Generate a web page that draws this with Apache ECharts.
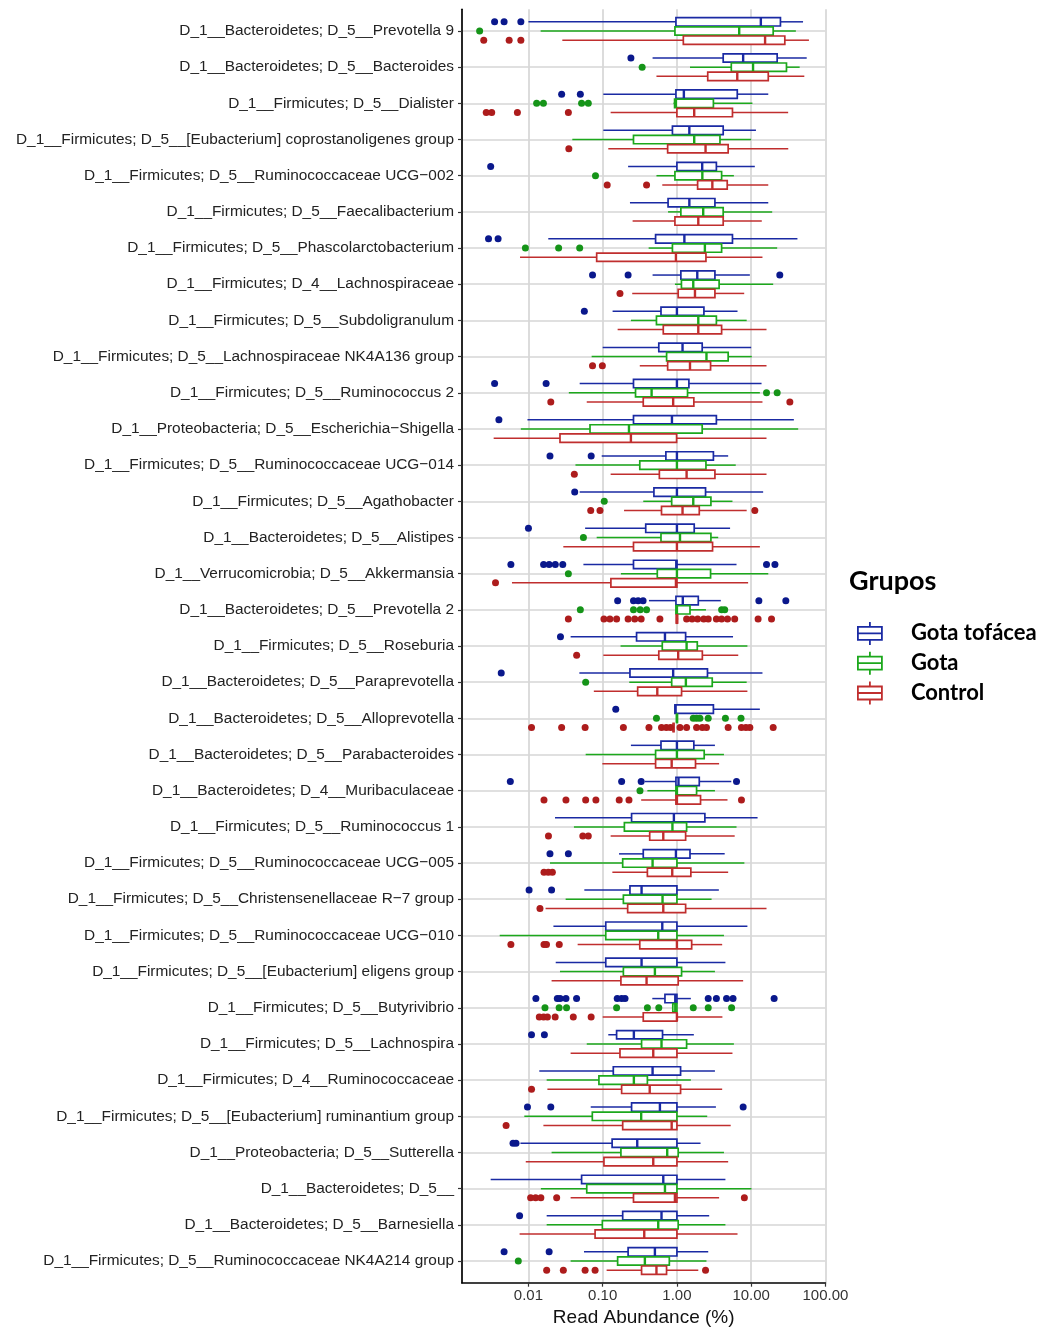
<!DOCTYPE html>
<html>
<head>
<meta charset="utf-8">
<script src="https://cdn.jsdelivr.net/npm/echarts@6/dist/echarts.min.js"></script>
<style>
  html, body { margin: 0; padding: 0; background: #fff; }
  #chart { width: 1041px; height: 1327px; }
</style>
</head>
<body>
<div id="chart"></div>
<script>
// Taxa shown on the vertical axis, top to bottom
const taxa = [
  'D_1__Bacteroidetes; D_5__Prevotella 9',
  'D_1__Bacteroidetes; D_5__Bacteroides',
  'D_1__Firmicutes; D_5__Dialister',
  'D_1__Firmicutes; D_5__[Eubacterium] coprostanoligenes group',
  'D_1__Firmicutes; D_5__Ruminococcaceae UCG\u2212002',
  'D_1__Firmicutes; D_5__Faecalibacterium',
  'D_1__Firmicutes; D_5__Phascolarctobacterium',
  'D_1__Firmicutes; D_4__Lachnospiraceae',
  'D_1__Firmicutes; D_5__Subdoligranulum',
  'D_1__Firmicutes; D_5__Lachnospiraceae NK4A136 group',
  'D_1__Firmicutes; D_5__Ruminococcus 2',
  'D_1__Proteobacteria; D_5__Escherichia\u2212Shigella',
  'D_1__Firmicutes; D_5__Ruminococcaceae UCG\u2212014',
  'D_1__Firmicutes; D_5__Agathobacter',
  'D_1__Bacteroidetes; D_5__Alistipes',
  'D_1__Verrucomicrobia; D_5__Akkermansia',
  'D_1__Bacteroidetes; D_5__Prevotella 2',
  'D_1__Firmicutes; D_5__Roseburia',
  'D_1__Bacteroidetes; D_5__Paraprevotella',
  'D_1__Bacteroidetes; D_5__Alloprevotella',
  'D_1__Bacteroidetes; D_5__Parabacteroides',
  'D_1__Bacteroidetes; D_4__Muribaculaceae',
  'D_1__Firmicutes; D_5__Ruminococcus 1',
  'D_1__Firmicutes; D_5__Ruminococcaceae UCG\u2212005',
  'D_1__Firmicutes; D_5__Christensenellaceae R\u22127 group',
  'D_1__Firmicutes; D_5__Ruminococcaceae UCG\u2212010',
  'D_1__Firmicutes; D_5__[Eubacterium] eligens group',
  'D_1__Firmicutes; D_5__Butyrivibrio',
  'D_1__Firmicutes; D_5__Lachnospira',
  'D_1__Firmicutes; D_4__Ruminococcaceae',
  'D_1__Firmicutes; D_5__[Eubacterium] ruminantium group',
  'D_1__Proteobacteria; D_5__Sutterella',
  'D_1__Bacteroidetes; D_5__',
  'D_1__Bacteroidetes; D_5__Barnesiella',
  'D_1__Firmicutes; D_5__Ruminococcaceae NK4A214 group'
];

const groupNames = ['Gota tof\u00e1cea', 'Gota', 'Control'];

// Read abundance (%) summaries per taxon: [lower whisker, Q1, median, Q3, upper whisker]
const tophaceousStats = [
  [0.010, 0.97, 13.5, 24.8, 50], [0.47, 4.2, 7.8, 22.4, 56], [0.102, 0.97, 1.24, 6.5, 17],
  [0.102, 0.87, 1.47, 4.2, 11.6], [0.22, 1.0, 2.19, 3.4, 11.2], [0.233, 0.76, 1.47, 3.25, 17],
  [0.0185, 0.516, 1.26, 5.6, 42], [0.47, 1.13, 1.88, 3.25, 9.6], [0.136, 0.61, 1.0, 2.31, 6.55],
  [0.1, 0.57, 1.19, 2.19, 10], [0.049, 0.26, 1.0, 1.45, 13.8], [0.0097, 0.26, 0.857, 3.4, 37.6],
  [0.097, 0.71, 1.0, 3.1, 4.9], [0.049, 0.49, 1.0, 2.43, 14.5], [0.058, 0.38, 1.0, 1.71, 5.2],
  [0.055, 0.26, 0.98, 1.0, 6.35], [0.42, 0.97, 1.2, 1.94, 3.9], [0.037, 0.286, 0.69, 1.31, 5.7],
  [0.0485, 0.233, 0.89, 2.58, 14.2], [0.94, 0.94, 0.96, 3.1, 13.1], [0.24, 0.61, 1.0, 1.69, 3.25],
  [0.37, 0.97, 1.05, 2.0, 5.4], [0.0228, 0.245, 0.91, 2.38, 12.2], [0.166, 0.352, 0.97, 1.5, 4.4],
  [0.0566, 0.233, 0.334, 1.0, 3.67], [0.0217, 0.11, 0.635, 1.0, 8.9], [0.0233, 0.11, 0.334, 1.0, 4.5],
  [0.466, 0.69, 0.95, 1.0, 1.54], [0.119, 0.154, 0.263, 0.64, 1.69], [0.014, 0.139, 0.47, 1.12, 3.25],
  [0.069, 0.245, 0.59, 1.0, 3.35], [0.0078, 0.134, 0.292, 1.0, 2.08], [0.0031, 0.052, 0.655, 1.0, 4.5],
  [0.0176, 0.186, 0.62, 1.0, 2.72], [0.056, 0.22, 0.505, 1.0, 2.64]
];
const goutStats = [
  [0.0146, 0.94, 6.9, 19.8, 40], [1.5, 5.4, 10.6, 29.9, 45], [0.9, 0.93, 0.97, 3.1, 10.4],
  [0.039, 0.26, 1.71, 3.8, 10], [0.53, 0.94, 2.2, 4.0, 5.85], [0.76, 1.13, 2.26, 4.2, 19.2],
  [0.416, 0.87, 2.38, 4.0, 22.4], [0.94, 1.15, 1.66, 3.7, 19.8], [0.24, 0.53, 1.94, 3.4, 8.7],
  [0.071, 0.726, 2.5, 4.9, 10.2], [0.035, 0.277, 0.456, 1.39, 13.1], [0.0079, 0.0675, 0.226, 2.19, 43],
  [0.043, 0.316, 1.0, 2.46, 6.2], [0.352, 0.85, 1.66, 2.87, 5.6], [0.083, 0.61, 1.1, 2.87, 3.6],
  [0.176, 0.544, 1.0, 2.84, 17], [0.97, 0.97, 1.0, 1.5, 2.46], [0.174, 0.635, 1.35, 1.88, 8.9],
  [0.228, 0.85, 1.32, 2.99, 8.7], [0.98, 0.99, 1.0, 1.01, 1.02], [0.059, 0.516, 1.0, 2.33, 4.3],
  [0.40, 0.97, 1.0, 1.84, 3.25], [0.041, 0.196, 0.87, 1.35, 6.35], [0.0195, 0.186, 0.47, 1.0, 8.1],
  [0.0317, 0.19, 0.64, 1.0, 2.93], [0.0041, 0.11, 0.56, 1.0, 4.3], [0.0266, 0.19, 0.505, 1.155, 3.25],
  [0.87, 0.88, 0.95, 1.0, 1.0], [0.061, 0.334, 0.62, 1.35, 5.85], [0.0176, 0.089, 0.263, 0.40, 1.54],
  [0.0088, 0.0725, 0.33, 1.0, 2.56], [0.0205, 0.176, 0.74, 1.04, 4.3], [0.0147, 0.061, 0.69, 1.0, 10.1],
  [0.0176, 0.099, 0.56, 1.04, 4.5], [0.037, 0.159, 0.37, 0.79, 2.5]
];
const controlStats = [
  [0.0286, 1.22, 15.4, 28.4, 60], [0.53, 2.6, 6.5, 17, 52], [0.128, 1.0, 1.71, 5.6, 31.5],
  [0.119, 0.75, 2.43, 4.9, 31.6], [0.635, 1.9, 3.0, 4.76, 17], [0.253, 0.94, 1.94, 4.2, 13.9],
  [0.0077, 0.083, 0.97, 2.46, 14.2], [0.25, 1.04, 1.75, 3.25, 8.06], [0.159, 0.655, 1.94, 4.0, 16.1],
  [0.316, 0.75, 1.5, 2.84, 16.1], [0.061, 0.352, 0.89, 1.69, 14.2], [0.0034, 0.0266, 0.24, 0.99, 16.1],
  [0.128, 0.58, 1.35, 3.25, 16.1], [0.194, 0.62, 1.19, 2.0, 8.7], [0.0295, 0.26, 1.0, 3.02, 13.1],
  [0.006, 0.129, 0.97, 1.0, 9.1], [0.97, 0.98, 1.0, 1.02, 1.04], [0.102, 0.57, 1.04, 2.2, 6.7],
  [0.076, 0.296, 0.544, 1.155, 8.9], [0.88, 0.89, 0.9, 0.91, 0.92], [0.099, 0.516, 0.85, 1.78, 3.7],
  [0.33, 0.97, 1.0, 2.08, 4.8], [0.128, 0.43, 0.655, 1.31, 6.0], [0.135, 0.4, 0.865, 1.54, 4.9],
  [0.017, 0.217, 0.655, 1.31, 16.1], [0.046, 0.316, 1.0, 1.58, 4.07], [0.0205, 0.176, 0.39, 1.04, 7.8],
  [0.1, 0.352, 1.0, 1.0, 4.1], [0.037, 0.171, 0.48, 1.0, 5.6], [0.018, 0.18, 0.43, 1.12, 4.07],
  [0.0159, 0.186, 0.85, 1.0, 5.3], [0.0092, 0.104, 0.48, 1.0, 4.9], [0.037, 0.26, 0.94, 1.0, 3.7],
  [0.0076, 0.079, 0.363, 1.0, 6.55], [0.113, 0.334, 0.53, 0.725, 1.94]
];

// Outlying samples per taxon (read abundance, %)
const tophaceousOutliers = [
  [0.0035, 0.0047, 0.0079], [0.24], [0.028, 0.050], [], [0.0031], [], [0.0029, 0.0039],
  [0.073, 0.22, 24.3], [0.0566], [], [0.0035, 0.0173], [0.004], [0.0195, 0.070], [0.042], [0.01],
  [0.0058, 0.016, 0.019, 0.023, 0.029, 16.1, 20.9], [0.159, 0.26, 0.30, 0.35, 12.7, 29.3],
  [0.027], [0.0043], [0.15], [], [0.0057, 0.18, 0.33, 6.35], [], [0.0195, 0.0345], [0.0102, 0.0205],
  [], [], [0.0126, 0.0245, 0.0267, 0.032, 0.0445, 0.157, 0.18, 0.2, 2.64, 3.4, 4.66, 5.7, 20.4],
  [0.011, 0.0164], [], [0.0097, 0.02, 7.8], [0.0062, 0.0068], [], [0.0076], [0.0047, 0.019]
];
const goutOutliers = [
  [0.0022], [0.34], [0.0129, 0.0159, 0.052, 0.064], [], [0.080], [], [0.0091, 0.0255, 0.049],
  [], [], [], [16.1, 22.4], [], [], [0.105], [0.055], [0.0345], [0.05, 0.26, 0.32, 0.39, 4.0, 4.4],
  [], [0.059], [0.53, 1.66, 1.84, 2.04, 2.64, 4.5, 7.3], [], [0.318], [], [], [], [], [],
  [0.0167, 0.0259, 0.0326, 0.154, 0.40, 0.57, 1.66, 2.64, 5.45], [], [], [], [], [], [], [0.0073]
];
const controlOutliers = [
  [0.0025, 0.0055, 0.0079], [], [0.0027, 0.0032, 0.0071, 0.0345], [0.035], [0.115, 0.39], [], [],
  [0.171], [], [0.073, 0.099], [0.02, 33.2], [], [0.0415], [0.069, 0.092, 11.2], [], [0.0036],
  [0.0345, 0.104, 0.125, 0.154, 0.22, 0.27, 0.33, 0.59, 1.35, 1.6, 1.9, 2.3, 2.64, 3.4, 4.0, 4.8, 6.0, 12.4, 18.8],
  [0.0446], [],
  [0.011, 0.028, 0.058, 0.19, 0.42, 0.62, 0.72, 0.82, 1.1, 1.35, 1.84, 2.2, 2.5, 4.9, 7.4, 8.5, 9.6, 19.8],
  [], [0.0162, 0.032, 0.059, 0.081, 0.167, 0.226, 7.4], [0.0186, 0.054, 0.064], [0.0162, 0.0185, 0.021],
  [0.0143], [0.0058, 0.0162, 0.0175, 0.026], [], [0.014, 0.016, 0.018, 0.0229, 0.0402, 0.0699],
  [], [0.011], [0.005], [], [0.0107, 0.0125, 0.0147, 0.024, 8.1], [], [0.0176, 0.0295, 0.058, 0.079, 2.43]
];

const abundanceTicks = [0.01, 0.1, 1, 10, 100];

// ---- drawing ----
const statsByGroup = [tophaceousStats, goutStats, controlStats];
const outliersByGroup = [tophaceousOutliers, goutOutliers, controlOutliers];
const lineColors = ['#1a2aa3', '#1ca81c', '#c02e2e'];
const dotColors = ['#0a188c', '#159418', '#ad1c1c'];
const rowShift = [-0.254, 0, 0.254];   // dodge within a taxon row, in row units
const boxThickness = 0.232;            // box height, in row units

const GRID = { left: 462, top: 9.3, width: 363.4, height: 1273.4 };
const Y_MIN = -0.6, Y_MAX = taxa.length - 1 + 0.6;
const ROW_PX = GRID.height / (Y_MAX - Y_MIN);
const rowIndex = taxa.map((_, i) => i);
const labelFont = 'Liberation Sans, Arial, sans-serif';

function boxRenderer(g) {
  return function (params, api) {
    const idx = api.value(5);
    const a = api.coord([1, idx]);
    const b = api.coord([1, idx + 1]);
    const band = Math.abs(b[1] - a[1]);
    const y = a[1] + rowShift[g] * band;
    const h = band * boxThickness;
    const xs = [0, 1, 2, 3, 4].map(d => api.coord([api.value(d), idx])[0]);
    const color = lineColors[g];
    const whisker = { stroke: color, lineWidth: 1.5 };
    return {
      type: 'group',
      children: [
        { type: 'line', shape: { x1: xs[0], y1: y, x2: xs[1], y2: y }, style: whisker },
        { type: 'line', shape: { x1: xs[3], y1: y, x2: xs[4], y2: y }, style: whisker },
        { type: 'rect', shape: { x: xs[1], y: y - h / 2, width: Math.max(xs[3] - xs[1], 0.8), height: h },
          style: { fill: '#ffffff', stroke: color, lineWidth: 1.7 } },
        { type: 'line', shape: { x1: xs[2], y1: y - h / 2, x2: xs[2], y2: y + h / 2 },
          style: { stroke: color, lineWidth: 2.4 } }
      ]
    };
  };
}

const series = [];
groupNames.forEach((name, g) => {
  series.push({
    name: name,
    type: 'custom',
    coordinateSystem: 'cartesian2d',
    encode: { x: [0, 1, 2, 3, 4], y: 5 },
    data: statsByGroup[g].map((s, i) => s.concat([i])),
    renderItem: boxRenderer(g),
    silent: true,
    z: 2
  });
});
groupNames.forEach((name, g) => {
  const pts = [];
  outliersByGroup[g].forEach((vals, i) => vals.forEach(v => pts.push([v, i])));
  series.push({
    name: name,
    type: 'scatter',
    data: pts,
    symbol: 'circle',
    symbolSize: 7,
    symbolOffset: [0, rowShift[g] * ROW_PX],
    itemStyle: { color: dotColors[g], opacity: 1 },
    silent: true,
    z: 3
  });
});

const legendIcon = 'path://M12,0V5M0,5H24V18H0ZM0,11.5H24M12,18V23';

const option = {
  animation: false,
  backgroundColor: '#ffffff',
  title: {
    text: 'Grupos',
    left: 849, top: 568, padding: 0,
    textStyle: { fontFamily: 'Lato, sans-serif', fontWeight: 'bold', fontSize: 27, color: '#000' }
  },
  legend: {
    orient: 'vertical',
    left: 857, top: 621, padding: 0,
    itemWidth: 24, itemHeight: 23, itemGap: 5,
    selectedMode: false,
    data: groupNames.map((n, g) => ({
      name: n,
      icon: legendIcon,
      itemStyle: { color: 'rgba(0,0,0,0)', borderColor: lineColors[g], borderWidth: 1.8 }
    })),
    textStyle: { fontFamily: 'Lato, sans-serif', fontWeight: 'bold', fontSize: 22, color: '#000', padding: [0, 0, 0, 24] }
  },
  grid: {
    left: GRID.left, top: GRID.top, width: GRID.width, height: GRID.height,
    containLabel: false, outerBoundsMode: 'none'
  },
  xAxis: {
    type: 'log',
    logBase: 10,
    min: Math.pow(10, -2.895),
    max: 100,
    name: 'Read Abundance (%)',
    nameLocation: 'middle',
    nameGap: 21,
    nameTextStyle: { fontFamily: labelFont, fontSize: 19, color: '#111' },
    axisLine: { show: true, onZero: false, lineStyle: { color: '#000', width: 1.7 } },
    axisTick: { show: true, length: 4, customValues: abundanceTicks, lineStyle: { color: '#333', width: 1.2 } },
    axisLabel: {
      customValues: abundanceTicks,
      formatter: v => Number(v).toFixed(2),
      margin: 6, fontFamily: labelFont, fontSize: 15, color: '#333'
    },
    splitLine: { show: true, lineStyle: { color: '#d6d6d6', width: 1.7 } },
    minorTick: { show: false },
    minorSplitLine: { show: false }
  },
  yAxis: {
    type: 'value',
    inverse: true,
    min: Y_MIN, max: Y_MAX,
    axisLine: { show: true, onZero: false, lineStyle: { color: '#000', width: 1.7 } },
    axisTick: { show: true, length: 4, customValues: rowIndex, lineStyle: { color: '#333', width: 1.2 } },
    axisLabel: {
      customValues: rowIndex,
      formatter: v => taxa[Math.round(v)],
      margin: 8, fontFamily: labelFont, fontSize: 15.4, color: '#222'
    },
    splitLine: { show: true, lineStyle: { color: '#d6d6d6', width: 1.7 } }
  },
  series: series
};

const chart = echarts.init(document.getElementById('chart'), null, { renderer: 'canvas' });
chart.setOption(option);
</script>
</body>
</html>
